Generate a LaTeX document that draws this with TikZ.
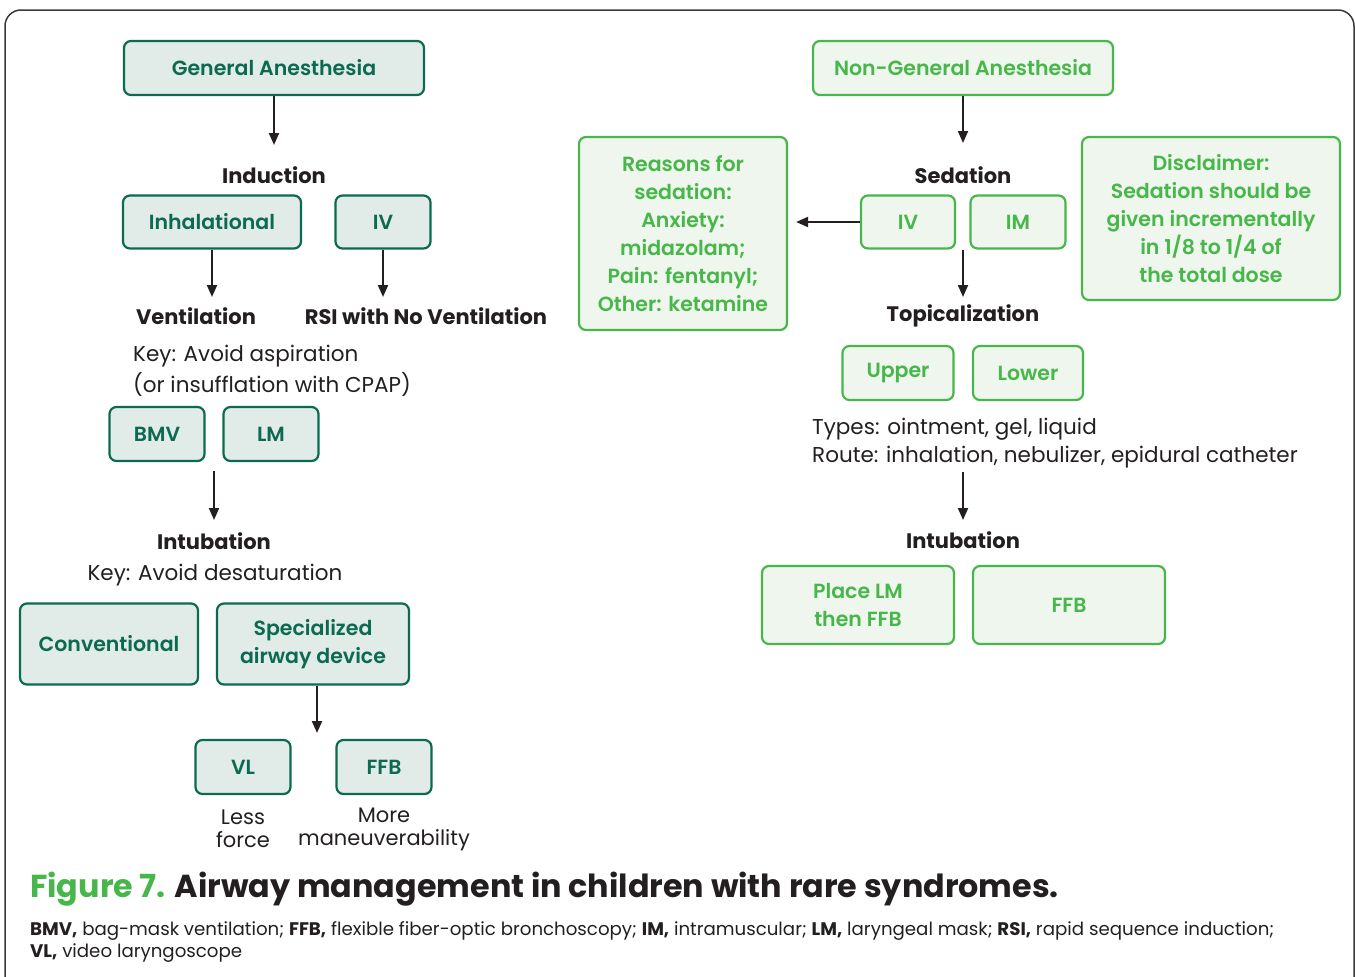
\documentclass[tikz,border=0pt]{standalone}
\usepackage{fontspec}
\setmainfont{Poppins}
\newfontfamily\medfont{Poppins Medium}
\newfontfamily\semifont{Poppins SemiBold}
\usetikzlibrary{arrows.meta}
\definecolor{dkg}{HTML}{0B6A50}
\definecolor{dkfill}{HTML}{E1EBE7}
\definecolor{ltg}{HTML}{48B74B}
\definecolor{ltfill}{HTML}{EFF6ED}
\definecolor{ink}{HTML}{231F20}
\definecolor{frame}{HTML}{3A3A3A}
\tikzset{
  dkbox/.style={draw=dkg, fill=dkfill, line width=2.2pt, rounded corners=7pt, text=dkg, align=center, inner sep=0pt, font=\semifont\fontsize{20.5}{28}\selectfont},
  ltbox/.style={draw=ltg, fill=ltfill, line width=2.2pt, rounded corners=7pt, text=ltg, align=center, inner sep=0pt, font=\semifont\fontsize{20.5}{28}\selectfont},
  head/.style={text=ink, font=\bfseries\fontsize{21}{24}\selectfont, inner sep=0pt},
  body/.style={text=ink, font=\fontsize{21.5}{28}\selectfont, inner sep=0pt},
  arr/.style={draw=ink, line width=2pt, -{Triangle[length=12pt,width=10pt]}},
}
\begin{document}
\begin{tikzpicture}[x=1pt,y=-1pt]
\useasboundingbox (0,0) rectangle (1355,977);
\begin{scope}
\clip (0,0) rectangle (1355,977);
\draw[frame, line width=1.5pt, rounded corners=16pt] (5,10) rectangle (1354,1000);
\end{scope}

% ---- left side ----
\node[dkbox, minimum width=300pt, minimum height=54pt] (ga) at (274,68) {General Anesthesia};
\node[head] (induct) at (274,175) {Induction};
\coordinate (a1e) at (274,145);
\draw[arr] (ga.south) -- (a1e);

\node[dkbox, minimum width=178pt, minimum height=53pt] (inh) at (212,222) {Inhalational};
\node[dkbox, minimum width=95pt, minimum height=53pt] (liv) at (383,222) {IV};
\coordinate (a2e) at (212,297);
\coordinate (a3e) at (383,297);
\draw[arr] (inh.south) -- (a2e);
\draw[arr] (liv.south) -- (a3e);

\node[head] (vent) at (196,316) {Ventilation};
\node[head] (rsi) at (426,316) {RSI with No Ventilation};
\node[body, anchor=west] (key1) at (133,356) {Key: Avoid aspiration};
\node[body, anchor=west] (key1b) at (133,384) {(or insufflation with CPAP)};

\node[dkbox, minimum width=95pt, minimum height=54pt] (bmv) at (157,434) {BMV};
\node[dkbox, minimum width=95pt, minimum height=54pt] (lm) at (271,434) {LM};
\coordinate (a4s) at (214,471);
\coordinate (a4e) at (214,520);
\draw[arr] (a4s) -- (a4e);

\node[head] (intub1) at (214,541) {Intubation};
\node[body] (key2) at (215,575) {Key: Avoid desaturation};

\node[dkbox, minimum width=178pt, minimum height=81pt] (conv) at (109,644) {Conventional};
\node[dkbox, minimum width=192pt, minimum height=81pt] (spec) at (313,644) {Specialized\\airway device};
\coordinate (a5e) at (317,733);
\draw[arr] (spec.south -| a5e) -- (a5e);

\node[dkbox, minimum width=95pt, minimum height=54pt] (vl) at (243,767) {VL};
\node[dkbox, minimum width=95pt, minimum height=54pt] (ffb1) at (384,767) {FFB};
\node[body, align=center, font=\fontsize{21}{23}\selectfont] (less) at (243,829) {Less\\force};
\node[body, align=center, font=\fontsize{21}{23}\selectfont] (more) at (384,829) {More\\maneuverability};

% ---- right side ----
\node[ltbox, minimum width=300pt, minimum height=54pt] (nga) at (963,68) {Non-General Anesthesia};
\coordinate (b1e) at (963,143);
\draw[arr] (nga.south) -- (b1e);
\node[head] (sed) at (963,175) {Sedation};

\node[ltbox, minimum width=94pt, minimum height=53pt] (siv) at (908,222) {IV};
\node[ltbox, minimum width=95pt, minimum height=53pt] (sim) at (1018,222) {IM};

\node[ltbox, minimum width=208pt, minimum height=193pt] (reasons) at (683,233.5) {Reasons for\\sedation:\\Anxiety:\\midazolam;\\Pain: fentanyl;\\Other: ketamine};
\draw[arr, shorten >=8pt] (siv.west) -- (siv.west -| reasons.east);

\node[ltbox, minimum width=258pt, minimum height=163pt] (disc) at (1211,218.5) {Disclaimer:\\Sedation should be\\given incrementally\\in 1/8 to 1/4 of\\the total dose};

\coordinate (b2s) at (963,250);
\coordinate (b2e) at (963,297);
\draw[arr] (b2s) -- (b2e);
\node[head] (topi) at (963,316) {Topicalization};

\node[ltbox, minimum width=111pt, minimum height=54pt] (upper) at (898,373) {Upper};
\node[ltbox, minimum width=110pt, minimum height=54pt] (lower) at (1028,373) {Lower};

\node[body, anchor=west] (types) at (812,429) {Types: ointment, gel, liquid};
\node[body, anchor=west] (route) at (812,457) {Route: inhalation, nebulizer, epidural catheter};

\coordinate (b3s) at (963,472);
\coordinate (b3e) at (963,520);
\draw[arr] (b3s) -- (b3e);
\node[head] (intub2) at (963,540) {Intubation};

\node[ltbox, minimum width=192pt, minimum height=78pt] (place) at (858,605) {Place LM\\then FFB};
\node[ltbox, minimum width=192pt, minimum height=78pt] (ffb2) at (1069,605) {FFB};

% ---- caption ----
\node[anchor=base west, inner sep=0pt, font=\fontsize{31.8}{36}\selectfont\bfseries] (cap) at (30,897) {\textcolor{ltg}{Figure 7.} \textcolor{ink}{Airway management in children with rare syndromes.}};
\node[anchor=base west, inner sep=0pt, text=ink, font=\fontsize{18.2}{22}\selectfont] (foot1) at (30,935) {\textbf{BMV,} bag-mask ventilation; \textbf{FFB,} flexible fiber-optic bronchoscopy; \textbf{IM,} intramuscular; \textbf{LM,} laryngeal mask; \textbf{RSI,} rapid sequence induction;};
\node[anchor=base west, inner sep=0pt, text=ink, font=\fontsize{18.2}{22}\selectfont] (foot2) at (30,957) {\textbf{VL,} video laryngoscope};
\end{tikzpicture}
\end{document}
